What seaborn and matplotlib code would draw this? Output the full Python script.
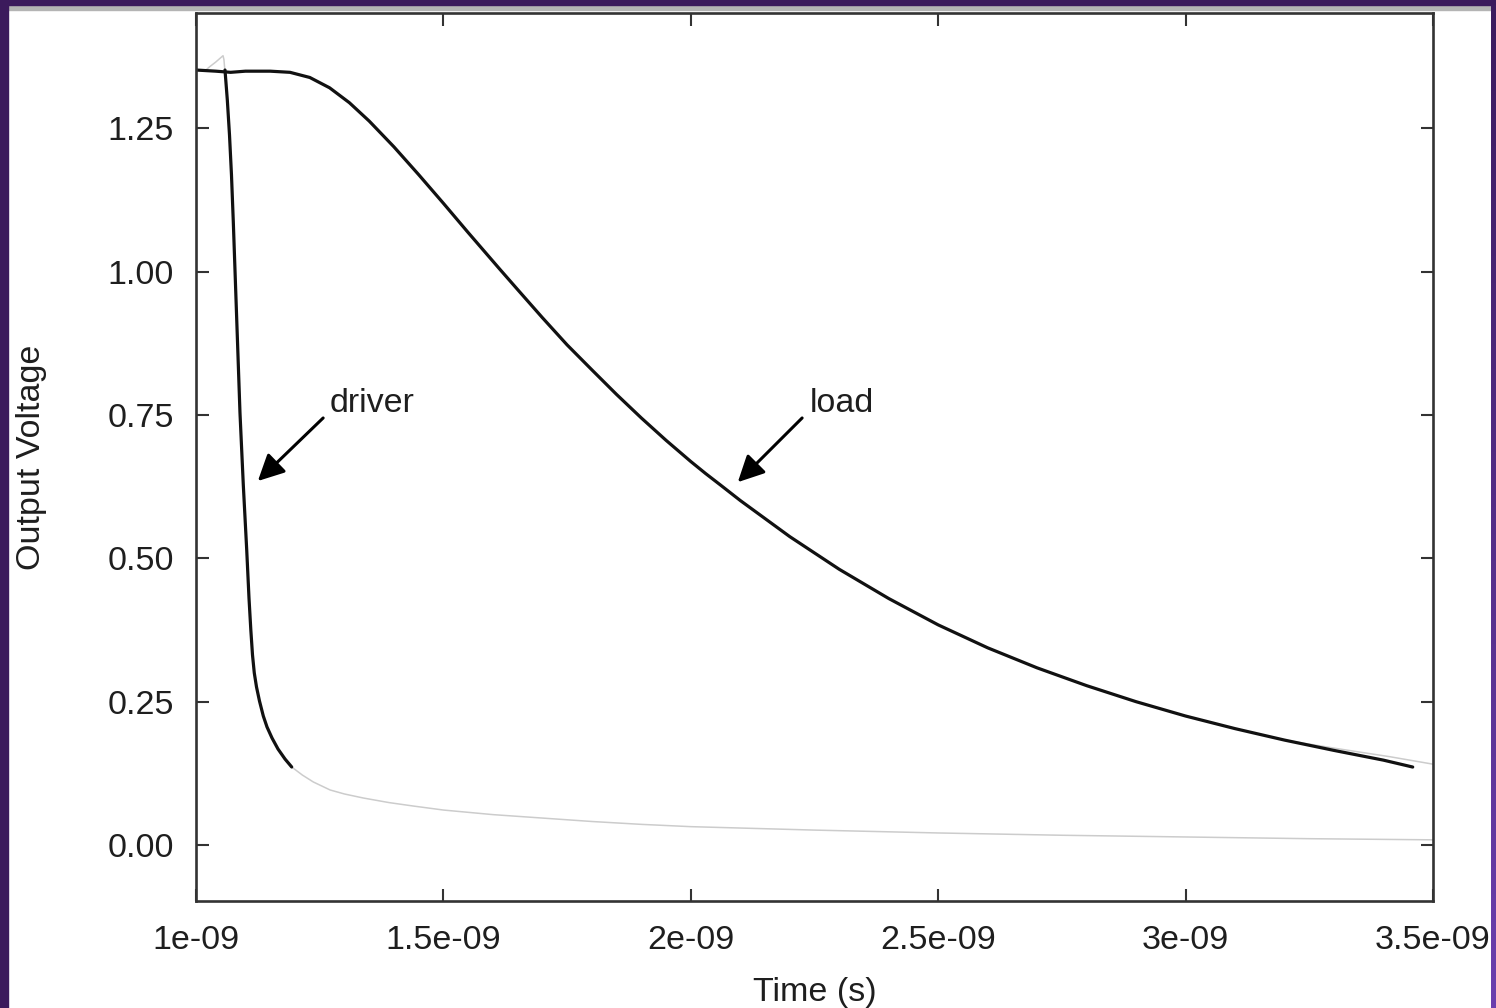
import numpy as np
import pandas as pd
import matplotlib
matplotlib.use("Agg")
import matplotlib.pyplot as plt
from matplotlib.patches import Rectangle
from matplotlib.colors import LinearSegmentedColormap
import seaborn as sns

# ---- data (time in ns, voltage in V) ----
driver_t = [1.0586, 1.0633, 1.0677, 1.0717, 1.0754, 1.0788, 1.0839, 1.0889, 1.0956, 1.1025,
            1.1071, 1.1108, 1.1142, 1.1178, 1.1223, 1.1283, 1.1360, 1.1435, 1.1536, 1.1657,
            1.1799, 1.1934]
driver_v = [1.352, 1.2997, 1.2387, 1.1689, 1.0869, 1.0031, 0.8775, 0.7537, 0.6281, 0.5147,
            0.4309, 0.3751, 0.3315, 0.3001, 0.2756, 0.2512, 0.2251, 0.2059, 0.1867, 0.1675,
            0.1500, 0.1361]

driver_ref_t = ([1.000, 1.020, 1.028, 1.040, 1.0546, 1.0565] + driver_t[1:] +
                [1.215, 1.237, 1.271, 1.300, 1.338, 1.390, 1.439, 1.50, 1.60, 1.70, 1.80,
                 1.90, 2.00, 2.25, 2.50, 2.75, 3.00, 3.25, 3.50])
driver_ref_v = ([1.352, 1.352, 1.358, 1.366, 1.377, 1.370] + driver_v[1:] +
                [0.122, 0.110, 0.096, 0.089, 0.082, 0.074, 0.068, 0.061, 0.053, 0.047, 0.041,
                 0.036, 0.032, 0.026, 0.021, 0.017, 0.014, 0.011, 0.009])

load_t = [1.000, 1.040, 1.070, 1.100, 1.150, 1.190, 1.230, 1.270, 1.310, 1.350, 1.400, 1.450,
          1.500, 1.550, 1.614, 1.650, 1.700, 1.750, 1.800, 1.850, 1.900, 1.950, 2.000, 2.030,
          2.060, 2.100, 2.200, 2.300, 2.400, 2.500, 2.600, 2.700, 2.800, 2.900, 3.000, 3.100,
          3.200, 3.300, 3.400, 3.459]
load_v = [1.352, 1.350, 1.348, 1.350, 1.350, 1.348, 1.339, 1.321, 1.295, 1.263, 1.218, 1.1695,
          1.1195, 1.0685, 1.0045, 0.969, 0.920, 0.8725, 0.829, 0.786, 0.745, 0.706, 0.669, 0.648,
          0.628, 0.601, 0.538, 0.481, 0.430, 0.384, 0.344, 0.309, 0.278, 0.250, 0.225, 0.203,
          0.183, 0.165, 0.148, 0.136]

load_ref_t = load_t[:-3] + [3.300, 3.413, 3.500]
load_ref_v = load_v[:-3] + [0.169, 0.154, 0.141]

x_ticks_ns = [1.0, 1.5, 2.0, 2.5, 3.0, 3.5]
x_tick_labels = ["1e-09", "1.5e-09", "2e-09", "2.5e-09", "3e-09", "3.5e-09"]
y_ticks = [0.00, 0.25, 0.50, 0.75, 1.00, 1.25]
y_tick_labels = ["0.00", "0.25", "0.50", "0.75", "1.00", "1.25"]

# ---- style ----
sns.set_theme(style="white")
plt.rcParams["font.family"] = ["Liberation Sans", "DejaVu Sans"]
FS = 24.5
TXT = "#1e1e1e"

W, H = 1496, 1008
fig = plt.figure(figsize=(W / 100, H / 100), dpi=100)
fig.patch.set_facecolor("white")
ax = fig.add_axes([196 / W, 1 - 901 / H, (1433 - 196) / W, (901 - 13) / H])


def frame(t, v, name):
    return pd.DataFrame({"time": np.asarray(t) * 1e-9, "voltage": v, "series": name})


grey = "#cccccc"
sns.lineplot(data=frame(driver_ref_t, driver_ref_v, "a"), x="time", y="voltage",
             color=grey, lw=1.1, ax=ax, sort=False, estimator=None)
sns.lineplot(data=frame(load_ref_t, load_ref_v, "b"), x="time", y="voltage",
             color=grey, lw=1.1, ax=ax, sort=False, estimator=None)
sns.lineplot(data=frame(driver_t, driver_v, "c"), x="time", y="voltage",
             color="#111111", lw=2.3, ax=ax, sort=False, estimator=None)
sns.lineplot(data=frame(load_t, load_v, "d"), x="time", y="voltage",
             color="#111111", lw=2.3, ax=ax, sort=False, estimator=None)

ax.set_xlim(1.0e-9, 3.5e-9)
ax.set_ylim(-0.0977, 1.4515)
ax.set_xticks([x * 1e-9 for x in x_ticks_ns])
ax.set_xticklabels(x_tick_labels)
ax.set_yticks(y_ticks)
ax.set_yticklabels(y_tick_labels)

for s in ax.spines.values():
    s.set_color("#333333")
    s.set_linewidth(1.9)
ax.tick_params(axis="both", which="major", direction="in", length=9, width=1.5,
               color="#333333", labelsize=FS, labelcolor=TXT,
               top=True, right=True, bottom=True, left=True)
ax.tick_params(axis="x", pad=17.5)
ax.tick_params(axis="y", pad=16)

ax.set_xlabel("Time (s)", fontsize=FS, color=TXT)
ax.set_ylabel("Output Voltage", fontsize=FS, color=TXT)
ax.xaxis.set_label_coords(0.5, -0.0857)
ax.yaxis.set_label_coords(-0.1208, 0.5)

# annotations
ap = dict(arrowstyle="-|>,head_length=0.8,head_width=0.4", color="black", lw=2.2,
          mutation_scale=20, shrinkA=0, shrinkB=0)
ax.annotate("", xy=(1.125e-9, 0.635), xytext=(1.257e-9, 0.745), arrowprops=ap)
ax.annotate("", xy=(2.095e-9, 0.633), xytext=(2.225e-9, 0.745), arrowprops=ap)
ax.text(1.271e-9, 0.7555, "driver", fontsize=FS, color=TXT, ha="left", va="baseline")
ax.text(2.241e-9, 0.7555, "load", fontsize=FS, color=TXT, ha="left", va="baseline")

# purple slide frame
purple = "#3b1a5c"
fig.add_artist(Rectangle((0, 0), 8 / W, 1, transform=fig.transFigure, color=purple, zorder=20))
fig.add_artist(Rectangle((0, 1 - 5 / H), 1, 5 / H, transform=fig.transFigure, color=purple, zorder=20))
fig.add_artist(Rectangle((8 / W, 1 - 10 / H), 1, 5 / H, transform=fig.transFigure,
                         color="#b4b4b4", zorder=19))
rax = fig.add_axes([1491 / W, 0, 5 / W, 1 - 5 / H], zorder=30)
grad = np.linspace(0, 1, 256).reshape(-1, 1)
cm = LinearSegmentedColormap.from_list("pp", ["#6b3fae", "#3c1b5e"])
rax.imshow(grad, aspect="auto", cmap=cm, origin="lower")
rax.set_axis_off()

fig.savefig("out.png", dpi=100, facecolor="white")
